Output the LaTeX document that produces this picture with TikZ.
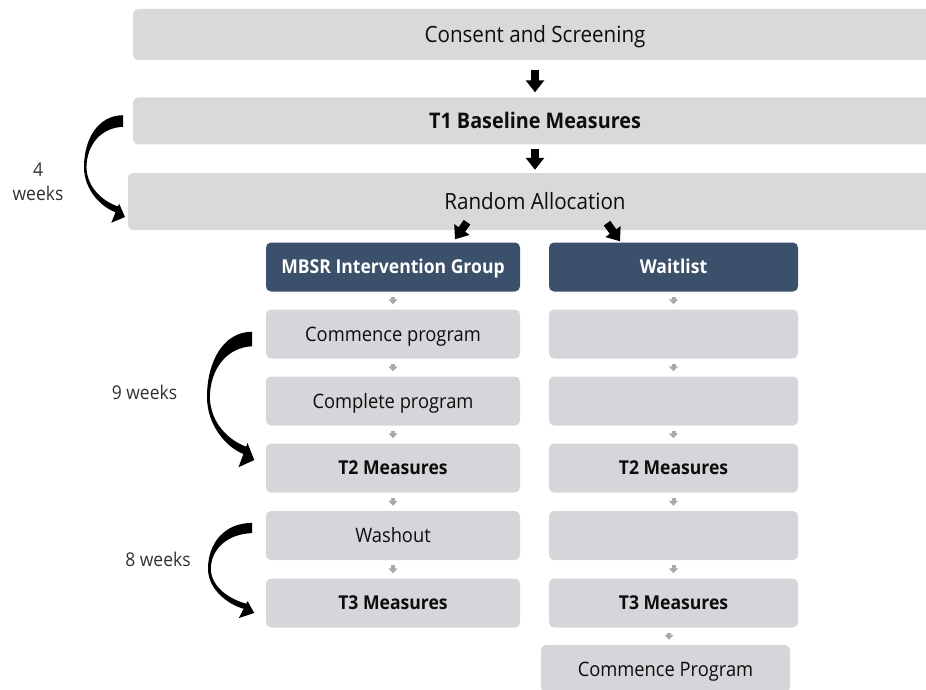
\documentclass[tikz,border=0pt]{standalone}
\usepackage{fontspec}
\setmainfont{Open Sans}[FakeStretch=0.92]
\usetikzlibrary{arrows.meta}

\definecolor{boxgrey}{HTML}{D9D9D9}
\definecolor{colgrey}{HTML}{D5D6D9}
\definecolor{navy}{HTML}{3B506A}
\definecolor{ink}{HTML}{0D0D0D}
\definecolor{tipgrey}{HTML}{A7A9AC}

% tapered curved arrow: tail x, tail y, bulge width, drop height
\newcommand\weekarrow[4]{%
  \begin{scope}[shift={(#1,#2)}, xscale=#3/40, yscale=#4/100]
    \fill[black] (0,-6) .. controls (-25,-6) and (-40,18) .. (-40,48)
      .. controls (-40,72) and (-22,90) .. (-7.6,95)
      -- (-12,106) -- (2,100) -- (-4,86) -- (-5.2,89)
      .. controls (-20,84) and (-37,70) .. (-37.5,48)
      .. controls (-37,24) and (-22,7) .. (0,6) -- cycle;
  \end{scope}}

\begin{document}
\begin{tikzpicture}[x=1pt, y=-1pt,
  % text box = cap height only, so capitals sit centred in each box
  txt/.style={text=ink, text depth=0pt, inner sep=0pt},
  bigbox/.style={txt, fill=boxgrey, rounded corners=5pt, minimum width=804pt,
    font=\fontsize{22.4}{26}\selectfont, text height=16pt},
  bigbold/.style={bigbox, font=\fontsize{21.5}{26}\selectfont\bfseries, text height=15.4pt},
  colbox/.style={txt, fill=colgrey, rounded corners=5pt, minimum width=254pt,
    minimum height=49pt, font=\fontsize{19.9}{24}\selectfont, text height=14.2pt},
  boldcol/.style={colbox, font=\fontsize{19.1}{23}\selectfont\bfseries, text height=13.6pt},
  headbox/.style={boldcol, fill=navy, text=white},
  lbl/.style={text=ink!85, align=center, inner sep=0pt, font=\fontsize{19}{24}\selectfont},
  blk/.style={line width=8pt, -{Triangle[length=12pt,width=18pt]}, black},
  gry/.style={line width=4pt, -{Triangle[length=5pt,width=9pt]}, tipgrey,
    shorten <=5pt, shorten >=5pt}]

\useasboundingbox (0,0) rectangle (926,690);
\clip (0,0) rectangle (926,690);

% full-width stages
\node[bigbox, minimum height=51pt] (consent) at (535,34.5) {Consent and Screening};
\node[bigbold, minimum height=47pt] (base) at (535,121) {T1 Baseline Measures};
\node[bigbox, minimum height=57pt, minimum width=814pt] (alloc) at (535,201.5) {Random Allocation};

% intervention arm
\node[headbox] (mbsr) at (393,267) {MBSR Intervention Group};
\node[colbox] (la) at (393,334) {Commence program};
\node[colbox] (lb) at (393,401) {Complete program};
\node[boldcol] (lc) at (393,468) {T2 Measures};
\node[colbox] (ld) at (393,535.5) {Washout};
\node[boldcol] (le) at (393,603) {T3 Measures};

% waitlist arm
\node[headbox, minimum width=249pt] (wait) at (673.5,267) {Waitlist};
\node[colbox, minimum width=249pt] (ra) at (673.5,334) {};
\node[colbox, minimum width=249pt] (rb) at (673.5,401) {};
\node[boldcol, minimum width=249pt] (rc) at (673.5,468) {T2 Measures};
\node[colbox, minimum width=249pt] (rd) at (673.5,535.5) {};
\node[boldcol, minimum width=249pt] (re) at (673.5,603) {T3 Measures};
\node[colbox, minimum width=249pt, minimum height=48pt] (rf) at (665.5,669) {Commence Program};

% main flow arrows
\draw[blk, shorten <=10pt, shorten >=5pt] (consent) -- (base);
\draw[blk, shorten <=4pt, shorten >=3pt] (base) -- (alloc);
\draw[blk] ([xshift=-68pt, yshift=8pt]alloc.south) -- ([xshift=62pt, yshift=3pt]mbsr.north);
\draw[blk] ([xshift=72pt, yshift=7pt]alloc.south) -- ([xshift=-53.5pt, yshift=1pt]wait.north);

% step arrows within the arms
\foreach \a/\b in {mbsr/la, la/lb, lb/lc, lc/ld, ld/le, wait/ra, ra/rb, rb/rc, rc/rd, rd/re}
  \draw[gry] (\a) -- (\b);
\draw[gry] ([xshift=-4.5pt]re.south) -- ([xshift=3.5pt]rf.north);

% time spans
\weekarrow{123}{121}{39}{96}
\weekarrow{252}{339}{45}{121}
\weekarrow{252}{528}{44}{85}
\node[lbl] (w4) at (38,182) {4\\weeks};
\node[lbl] (w9) at (144.5,392) {9 weeks};
\node[lbl] (w8) at (158,559) {8 weeks};
\end{tikzpicture}
\end{document}
